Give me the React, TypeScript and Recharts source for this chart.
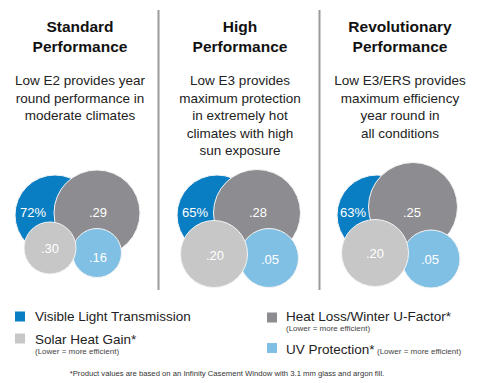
import React from 'react';
import { ScatterChart, Scatter, XAxis, YAxis, Customized } from 'recharts';

// ---- Data ----
const panelTitles = [
  ['Standard', 'Performance'],
  ['High', 'Performance'],
  ['Revolutionary', 'Performance'],
];
const panelDescriptions = [
  ['Low E2 provides year', 'round performance in', 'moderate climates'],
  ['Low E3 provides', 'maximum protection', 'in extremely hot', 'climates with high', 'sun exposure'],
  ['Low E3/ERS provides', 'maximum efficiency', 'year round in', 'all conditions'],
];
const visibleLight = ['72%', '65%', '63%'];
const heatLoss = ['.29', '.28', '.25'];
const solarHeatGain = ['.30', '.20', '.20'];
const uvProtection = ['.16', '.05', '.05'];

const legendItems = [
  { name: 'Visible Light Transmission', note: '' },
  { name: 'Solar Heat Gain*', note: '(Lower = more efficient)' },
  { name: 'Heat Loss/Winter U-Factor*', note: '(Lower = more efficient)' },
  { name: 'UV Protection*', note: '(Lower = more efficient)' },
];
const footnote = '*Product values are based on an Infinity Casement Window with 3.1 mm glass and argon fill.';

// ---- Layout (positions / sizes / styles) ----
const W = 480;
const H = 383;
const FONT = '"Liberation Sans", Arial, Helvetica, sans-serif';
const PANEL_X = [80, 240, 400];
const COLORS = {
  vlt: '#0a7ec3',
  heat: '#8d8c90',
  shgc: '#c7c7c7',
  uv: '#80c0e4',
};
// per panel: center offsets (x relative to panel center, y absolute), radius, label offset
const LAYOUT = {
  vlt: [
    { dx: -25, y: 215, r: 40, lx: -22, ly: -3 },
    { dx: -23, y: 215, r: 40, lx: -22, ly: -3 },
    { dx: -23, y: 215, r: 40, lx: -24, ly: -3 },
  ],
  heat: [
    { dx: 17, y: 213, r: 43, lx: 1, ly: -1 },
    { dx: 17, y: 213, r: 43.5, lx: 1, ly: -1 },
    { dx: 13, y: 207, r: 44.5, lx: -1, ly: 5 },
  ],
  uv: [
    { dx: 17, y: 253, r: 24.5, lx: 1, ly: 4 },
    { dx: 29, y: 258, r: 29.5, lx: 1, ly: 1 },
    { dx: 31, y: 259, r: 29, lx: -1, ly: 0 },
  ],
  shgc: [
    { dx: -30, y: 248, r: 26, lx: 0, ly: 0 },
    { dx: -26, y: 254, r: 33.5, lx: 1, ly: 1 },
    { dx: -25, y: 253, r: 33.5, lx: 0, ly: 0 },
  ],
};

const build = (labels: string[], key: keyof typeof LAYOUT) =>
  labels.map((label, i) => {
    const l = LAYOUT[key][i];
    return { x: PANEL_X[i] + l.dx, y: l.y, r: l.r, lx: l.lx, ly: l.ly, label };
  });

const makeShape = (fill: string) => (props: any) => {
  const { cx, cy, payload } = props;
  return (
    <g>
      <circle cx={cx} cy={cy} r={payload.r} fill={fill} stroke="#f4f4f4" strokeWidth={1} />
      <text
        x={cx + payload.lx}
        y={cy + payload.ly}
        textAnchor="middle"
        dominantBaseline="central"
        fill="#ffffff"
        fontFamily={FONT}
        fontSize={13}
      >
        {payload.label}
      </text>
    </g>
  );
};

const Decorations = () => (
  <g fontFamily={FONT}>
    {/* separators */}
    <rect x={157.5} y={10} width={2} height={280} fill="#9b9b9b" />
    <rect x={318.5} y={10} width={2} height={280} fill="#9b9b9b" />
    {panelTitles.map((lines, i) =>
      lines.map((t, j) => (
        <text
          key={`t${i}${j}`}
          x={PANEL_X[i]}
          y={31.5 + j * 20}
          textAnchor="middle"
          fontSize={15.5}
          fontWeight="bold"
          fill="#111"
        >
          {t}
        </text>
      ))
    )}
    {panelDescriptions.map((lines, i) =>
      lines.map((t, j) => (
        <text
          key={`d${i}${j}`}
          x={PANEL_X[i]}
          y={85 + j * 17.5}
          textAnchor="middle"
          fontSize={13.5}
          fill="#222"
        >
          {t}
        </text>
      ))
    )}
    {/* legend */}
    <rect x={15} y={311.5} width={10} height={10} fill={COLORS.vlt} />
    <text x={35} y={321} fontSize={13.5} fill="#222">{legendItems[0].name}</text>
    <rect x={15} y={333.5} width={10} height={10} fill={COLORS.shgc} />
    <text x={35} y={344} fontSize={13.5} fill="#222">{legendItems[1].name}</text>
    <text x={35} y={354} fontSize={8} fill="#444">{legendItems[1].note}</text>

    <rect x={267} y={312.5} width={10} height={10} fill={COLORS.heat} />
    <text x={286} y={321} fontSize={13.5} fill="#222">{legendItems[2].name}</text>
    <text x={286} y={331} fontSize={8} fill="#444">{legendItems[2].note}</text>
    <rect x={267} y={343} width={10} height={10} fill={COLORS.uv} />
    <text x={286} y={354} fontSize={13.5} fill="#222">{legendItems[3].name}</text>
    <text x={377} y={354} fontSize={8} fill="#444">{legendItems[3].note}</text>

    <text x={227} y={375.5} textAnchor="middle" fontSize={7.7} fill="#333">{footnote}</text>
  </g>
);

export default function App() {
  return (
    <div style={{ position: 'absolute', left: 0, top: 0, width: W, height: H, background: '#fff' }}>
      <ScatterChart width={W} height={H} margin={{ top: 0, right: 0, bottom: 0, left: 0 }}>
        <XAxis type="number" dataKey="x" domain={[0, W]} hide />
        <YAxis type="number" dataKey="y" domain={[0, H]} reversed hide />
        <Scatter data={build(visibleLight, 'vlt')} shape={makeShape(COLORS.vlt)} isAnimationActive={false} />
        <Scatter data={build(heatLoss, 'heat')} shape={makeShape(COLORS.heat)} isAnimationActive={false} />
        <Scatter data={build(uvProtection, 'uv')} shape={makeShape(COLORS.uv)} isAnimationActive={false} />
        <Scatter data={build(solarHeatGain, 'shgc')} shape={makeShape(COLORS.shgc)} isAnimationActive={false} />
        <Customized component={Decorations} />
      </ScatterChart>
    </div>
  );
}
